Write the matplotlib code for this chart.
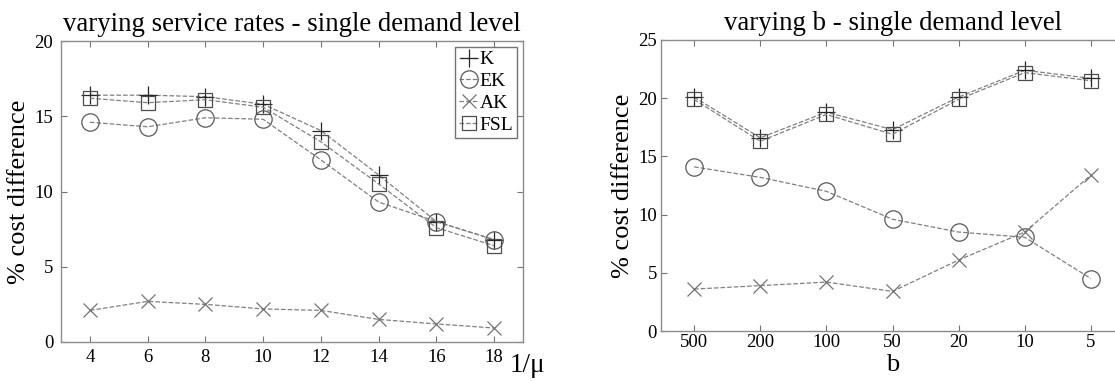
import matplotlib
matplotlib.use("Agg")
import matplotlib.pyplot as plt

plt.rcParams['font.family'] = ['Liberation Serif', 'DejaVu Serif']

# left panel: varying service rates
mu_inv = [4, 6, 8, 10, 12, 14, 16, 18]
k_mu = [16.4, 16.4, 16.3, 15.8, 14.05, 11.1, 8.0, 6.8]
ek_mu = [14.6, 14.3, 14.9, 14.8, 12.1, 9.3, 8.0, 6.8]
ak_mu = [2.1, 2.7, 2.5, 2.2, 2.1, 1.5, 1.2, 0.93]
fsl_mu = [16.2, 15.9, 16.1, 15.6, 13.3, 10.5, 7.6, 6.4]

# right panel: varying b
b_labels = ['500', '200', '100', '50', '20', '10', '5']
k_b = [20.1, 16.6, 18.8, 17.3, 20.1, 22.4, 21.7]
ek_b = [14.1, 13.2, 12.0, 9.6, 8.5, 8.05, 4.5]
ak_b = [3.6, 3.9, 4.2, 3.4, 6.1, 8.5, 13.4]
fsl_b = [19.9, 16.3, 18.6, 16.9, 19.9, 22.2, 21.5]

W, H = 1115, 381
fig = plt.figure(figsize=(W / 100, H / 100), dpi=100)
ax1 = fig.add_axes([61 / W, 1 - 342 / H, (523 - 61) / W, (342 - 41) / H])
ax2 = fig.add_axes([661 / W, 1 - 331 / H, (1124 - 661) / W, (331 - 40) / H])

ln = dict(color='0.5', linestyle='--', linewidth=0.9, markerfacecolor='none')
styles = [('K', '+', 13, '0.15'), ('EK', 'o', 12.5, '0.35'),
          ('AK', 'x', 10, '0.45'), ('FSL', 's', 10, '0.3')]

for ys, (lab, m, ms, mc) in zip([k_mu, ek_mu, ak_mu, fsl_mu], styles):
    ax1.plot(mu_inv, ys, marker=m, markersize=ms, markeredgecolor=mc,
             markeredgewidth=0.9, label=lab, **ln)

xb = list(range(1, len(b_labels) + 1))
for ys, (lab, m, ms, mc) in zip([k_b, ek_b, ak_b, fsl_b], styles):
    ax2.plot(xb, ys, marker=m, markersize=ms, markeredgecolor=mc,
             markeredgewidth=0.9, label=lab, **ln)

ax1.set_xlim(3, 19)
ax1.set_ylim(0, 20)
ax1.set_xticks(mu_inv)
ax1.set_yticks([0, 5, 10, 15, 20])
ax2.set_xlim(0.5, 7.5)
ax2.set_ylim(0, 25)
ax2.set_xticks(xb)
ax2.set_xticklabels(b_labels)
ax2.set_yticks([0, 5, 10, 15, 20, 25])

for ax in (ax1, ax2):
    for s in ax.spines.values():
        s.set_color('0.55')
        s.set_linewidth(1.0)
    ax.tick_params(direction='in', top=True, right=True, length=4,
                   color='0.45', labelsize=13.5)
    ax.set_ylabel('% cost difference', fontsize=19, labelpad=3)

ax1.tick_params(axis='x', pad=5)
ax1.tick_params(axis='y', pad=5.5)
ax2.tick_params(axis='x', pad=2)
ax2.tick_params(axis='y', pad=3)

ax1.set_title('varying service rates - single demand level', fontsize=19.3, pad=7)
ax2.set_title('varying b - single demand level', fontsize=19.3, pad=7)
ax1.text(0.972, -0.035, '1/μ', transform=ax1.transAxes, fontsize=19.5,
         ha='left', va='top')
ax2.set_xlabel('b', fontsize=19, labelpad=2)

leg = ax1.legend(loc='upper right', fontsize=14, handlelength=1.0,
                 handletextpad=0.05, borderpad=0.2, labelspacing=0.22,
                 fancybox=False, framealpha=1, borderaxespad=0.3)
leg.get_frame().set_edgecolor('0.45')
leg.get_frame().set_linewidth(1.0)

fig.savefig('out.png', dpi=100)
